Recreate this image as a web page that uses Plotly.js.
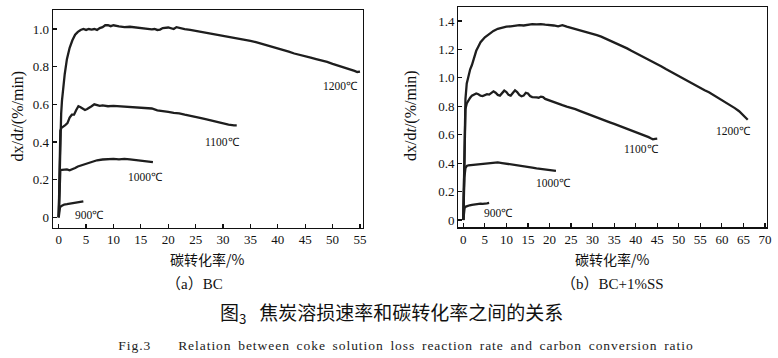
<!DOCTYPE html>
<html><head><meta charset="utf-8">
<script src="https://cdn.plot.ly/plotly-3.0.1.min.js"></script>
<style>html,body{margin:0;padding:0;background:#fff;}#chart{width:778px;height:358px;}</style>
</head><body><div id="chart"></div>
<script>
// ---- data ----
const tempLabels = ["1200℃", "1100℃", "1000℃", "900℃"];
const yTicksA = [0, 0.2, 0.4, 0.6, 0.8, 1.0];
const yTickTextA = ["0", "0.2", "0.4", "0.6", "0.8", "1.0"];
const yTicksB = [0, 0.2, 0.4, 0.6, 0.8, 1.0, 1.2, 1.4];
const yTickTextB = ["0", "0.2", "0.4", "0.6", "0.8", "1.0", "1.2", "1.4"];
const xTicksA = [0, 5, 10, 15, 20, 25, 30, 35, 40, 45, 50, 55];
const xTicksB = [0, 5, 10, 15, 20, 25, 30, 35, 40, 45, 50, 55, 60, 65, 70];

// (a) BC : [carbon conversion %, dx/dt]
const bc1200 = [[0,0],[0.1,0.12],[0.2,0.3],[0.3,0.45],[0.45,0.55],[0.6,0.62],[0.8,0.68],[1.1,0.76],[1.5,0.84],[2.0,0.9],[2.5,0.94],[3.0,0.97],[3.5,0.985],[4.0,0.995],[4.5,1.0],[5.0,0.995],[5.5,1.0],[6.0,0.997],[6.5,1.0],[7.0,0.995],[7.5,1.005],[8.0,1.01],[8.5,1.02],[9.0,1.02],[9.5,1.015],[10,1.02],[11,1.014],[12,1.01],[13,1.012],[14,1.008],[15,1.005],[16,1.0],[17,0.998],[17.5,1.0],[18,0.995],[18.5,0.997],[19,1.005],[20,1.008],[21,1.0],[21.5,1.01],[22,1.006],[23,1.0],[24,0.995],[25,0.99],[26,0.985],[27,0.98],[28,0.975],[29,0.97],[30,0.965],[31,0.958],[32,0.953],[33,0.95],[34,0.944],[35,0.937],[36,0.93],[37,0.922],[38,0.915],[39,0.906],[40,0.9],[41,0.89],[42,0.88],[43,0.87],[44,0.864],[45,0.855],[46,0.848],[47,0.84],[48,0.834],[49,0.825],[50,0.815],[51,0.806],[52,0.8],[53,0.79],[54,0.778],[54.5,0.772],[55,0.774]];
const bc1100 = [[0,0],[0.1,0.15],[0.2,0.35],[0.3,0.46],[0.5,0.475],[0.8,0.48],[1.2,0.49],[1.6,0.5],[2.0,0.53],[2.4,0.545],[2.8,0.545],[3.2,0.57],[3.6,0.59],[4.0,0.585],[4.4,0.575],[4.8,0.57],[5.2,0.575],[5.6,0.585],[6.0,0.59],[6.5,0.6],[7.0,0.598],[7.5,0.592],[8,0.594],[9,0.59],[10,0.592],[11,0.59],[12,0.59],[13,0.588],[14,0.585],[15,0.583],[16,0.58],[17,0.578],[18,0.568],[19,0.562],[20,0.56],[21,0.555],[22,0.552],[23,0.545],[24,0.54],[25,0.533],[26,0.527],[27,0.52],[28,0.512],[29,0.505],[30,0.5],[31,0.492],[32,0.488],[32.5,0.488]];
const bc1000 = [[0,0],[0.1,0.12],[0.2,0.22],[0.3,0.25],[0.6,0.252],[1.0,0.255],[1.5,0.255],[2.0,0.25],[2.5,0.255],[3,0.262],[3.5,0.27],[4,0.275],[4.5,0.28],[5,0.287],[6,0.295],[7,0.303],[8,0.307],[9,0.31],[10,0.31],[11,0.308],[12,0.31],[13,0.308],[14,0.305],[15,0.3],[16,0.297],[17,0.293],[17.2,0.293]];
const bc900 = [[0,0],[0.1,0.03],[0.25,0.055],[0.5,0.06],[1,0.068],[1.5,0.07],[2,0.072],[2.5,0.076],[3,0.078],[3.5,0.078],[4,0.08],[4.5,0.085]];

// (b) BC+1%SS
const ss1200 = [[0,0],[0.1,0.2],[0.2,0.45],[0.35,0.7],[0.5,0.85],[0.8,0.96],[1.2,1.02],[1.6,1.06],[2.0,1.09],[2.5,1.14],[3.0,1.19],[3.5,1.22],[4,1.25],[5,1.285],[6,1.31],[7,1.33],[8,1.345],[9,1.355],[10,1.36],[11,1.362],[12,1.366],[13,1.37],[14,1.368],[15,1.375],[16,1.378],[17,1.376],[18,1.378],[19,1.374],[20,1.372],[21,1.368],[22,1.362],[23,1.37],[24,1.36],[25,1.352],[26,1.345],[27,1.337],[28,1.328],[29,1.32],[30,1.31],[31,1.3],[32,1.29],[33,1.277],[34,1.264],[35,1.25],[36,1.236],[37,1.222],[38,1.207],[39,1.19],[40,1.175],[41,1.16],[42,1.145],[43,1.13],[44,1.115],[45,1.098],[46,1.08],[47,1.062],[48,1.045],[49,1.028],[50,1.01],[51,0.993],[52,0.976],[53,0.96],[54,0.945],[55,0.93],[56,0.913],[57,0.898],[58,0.88],[59,0.862],[60,0.845],[61,0.827],[62,0.808],[63,0.787],[64,0.765],[65,0.738],[65.5,0.722],[66,0.705]];
const ss1100 = [[0,0],[0.1,0.2],[0.2,0.5],[0.35,0.72],[0.5,0.78],[0.8,0.82],[1.2,0.845],[1.6,0.86],[2.0,0.875],[2.5,0.885],[3,0.89],[3.5,0.885],[4,0.875],[4.5,0.872],[5,0.88],[5.5,0.885],[6,0.882],[6.5,0.895],[7,0.905],[7.5,0.895],[8,0.88],[8.5,0.875],[9,0.89],[9.5,0.91],[10,0.9],[10.5,0.88],[11,0.875],[11.5,0.895],[12,0.912],[12.5,0.9],[13,0.88],[13.5,0.87],[14,0.875],[14.5,0.895],[15,0.89],[15.5,0.872],[16,0.865],[17,0.862],[17.5,0.86],[18,0.868],[18.5,0.865],[19,0.852],[20,0.84],[21,0.83],[22,0.818],[23,0.808],[24,0.798],[25,0.79],[26,0.78],[27,0.768],[28,0.756],[29,0.745],[30,0.73],[31,0.72],[32,0.71],[33,0.698],[34,0.687],[35,0.676],[36,0.665],[37,0.654],[38,0.642],[39,0.63],[40,0.62],[41,0.608],[42,0.594],[43,0.583],[43.5,0.575],[44,0.568],[44.5,0.57],[45,0.572]];
const ss1000 = [[0,0],[0.1,0.15],[0.25,0.3],[0.5,0.365],[0.8,0.38],[1.2,0.385],[2,0.388],[3,0.39],[4,0.393],[5,0.396],[6,0.4],[7,0.404],[8,0.405],[9,0.401],[10,0.397],[11,0.392],[12,0.388],[13,0.384],[14,0.379],[15,0.373],[16,0.368],[17,0.363],[18,0.358],[19,0.353],[20,0.348],[21,0.343],[21.5,0.345]];
const ss900 = [[0,0],[0.1,0.05],[0.3,0.085],[0.6,0.095],[1,0.1],[1.5,0.104],[2,0.107],[2.5,0.11],[3,0.113],[3.5,0.112],[4,0.116],[4.5,0.114],[5,0.118],[5.5,0.117],[6,0.12]];

// label anchor positions in data units
const labelPosA = [[51.4,0.70],[29.9,0.40],[15.8,0.215],[5.6,0.012]];
const labelPosB = [[62.6,0.626],[41.4,0.498],[20.9,0.258],[8.1,0.051]];

// ---- build ----
const lineStyle = {color: '#1e1e1e', width: 2.3};
function tr(d, xa, ya) {
  return {x: d.map(p => p[0]), y: d.map(p => p[1]), xaxis: xa, yaxis: ya,
          type: 'scatter', mode: 'lines', line: lineStyle, hoverinfo: 'skip'};
}
const traces = [
  tr(bc1200,'x','y'), tr(bc1100,'x','y'), tr(bc1000,'x','y'), tr(bc900,'x','y'),
  tr(ss1200,'x2','y2'), tr(ss1100,'x2','y2'), tr(ss1000,'x2','y2'), tr(ss900,'x2','y2')
];

const serif = 'Liberation Serif, Times New Roman, serif';
const cjk = 'Noto Sans CJK SC, sans-serif';
const mixed = 'Liberation Serif, Noto Sans CJK SC, serif';
const axBase = {
  showline: true, linecolor: '#111', linewidth: 1.3, mirror: true,
  ticks: 'inside', ticklen: 4, tickwidth: 1.2, tickcolor: '#111',
  showgrid: false, zeroline: false,
  tickfont: {family: serif, size: 13, color: '#111'}
};

const annotations = [];
function ann(o) { annotations.push(Object.assign({showarrow:false, xanchor:'center', yanchor:'middle'}, o)); }
tempLabels.forEach((t, i) => {
  ann({xref:'x', yref:'y', x: labelPosA[i][0], y: labelPosA[i][1], text: t,
    font:{family: serif, size: 11.5, color:'#111'}});
  ann({xref:'x2', yref:'y2', x: labelPosB[i][0], y: labelPosB[i][1], text: t,
    font:{family: serif, size: 11.5, color:'#111'}});
});
const ytitle = 'dx/d<i>t</i>/(%/min)';
ann({xref:'paper', yref:'paper', x: 17.5/778, y: 1-116/358, text: ytitle, textangle:-90,
  font:{family: serif, size: 16, color:'#111'}});
ann({xref:'paper', yref:'paper', x: 411/778, y: 1-115/358, text: ytitle, textangle:-90,
  font:{family: serif, size: 16, color:'#111'}});
ann({xref:'paper', yref:'paper', x: 207/778, y: 1-259/358, text: '碳转化率/%',
  font:{family: cjk, size: 14, color:'#111'}});
ann({xref:'paper', yref:'paper', x: 612/778, y: 1-259/358, text: '碳转化率/%',
  font:{family: cjk, size: 14, color:'#111'}});
ann({xref:'paper', yref:'paper', x: 195/778, y: 1-284/358, text: '（a）BC',
  font:{family: mixed, size: 15, color:'#111'}});
ann({xref:'paper', yref:'paper', x: 612/778, y: 1-284/358, text: '（b）BC+1%SS',
  font:{family: mixed, size: 15, color:'#111'}});
ann({xref:'paper', yref:'paper', x: 391/778, y: 1-313/358, text: '图<sub>3</sub>   焦炭溶损速率和碳转化率之间的关系',
  font:{family: cjk, size: 19, color:'#111'}});
ann({xref:'paper', yref:'paper', x: 406/778, y: 1-345/358, text: 'Fig.3    Relation between coke solution loss reaction rate and carbon conversion ratio',
  font:{family: serif, size: 13.5, color:'#222'}});

const layout = {
  width: 778, height: 358, margin: {l:0, r:0, t:0, b:0},
  paper_bgcolor: '#fff', plot_bgcolor: '#fff', showlegend: false,
  xaxis: Object.assign({}, axBase, {domain:[53/778, 363/778], range:[-1.04, 55.55], tickvals: xTicksA, anchor:'y'}),
  yaxis: Object.assign({}, axBase, {domain:[130.5/358, 348/358], range:[-0.054, 1.101], tickvals: yTicksA, ticktext: yTickTextA, anchor:'x'}),
  xaxis2: Object.assign({}, axBase, {domain:[458.3/778, 766.7/778], range:[-1.16, 70.4], tickvals: xTicksB, anchor:'y2'}),
  yaxis2: Object.assign({}, axBase, {domain:[130.7/358, 351/358], range:[-0.051, 1.498], tickvals: yTicksB, ticktext: yTickTextB, anchor:'x2'}),
  annotations: annotations
};
Plotly.newPlot('chart', traces, layout, {displayModeBar:false, staticPlot:true}).then(() => {
  const texts = document.querySelectorAll('.annotation-text');
  const last = texts[texts.length - 1];
  if (last) { last.style.letterSpacing = '0.95px'; last.style.wordSpacing = '2.4px'; }
});
</script></body></html>
